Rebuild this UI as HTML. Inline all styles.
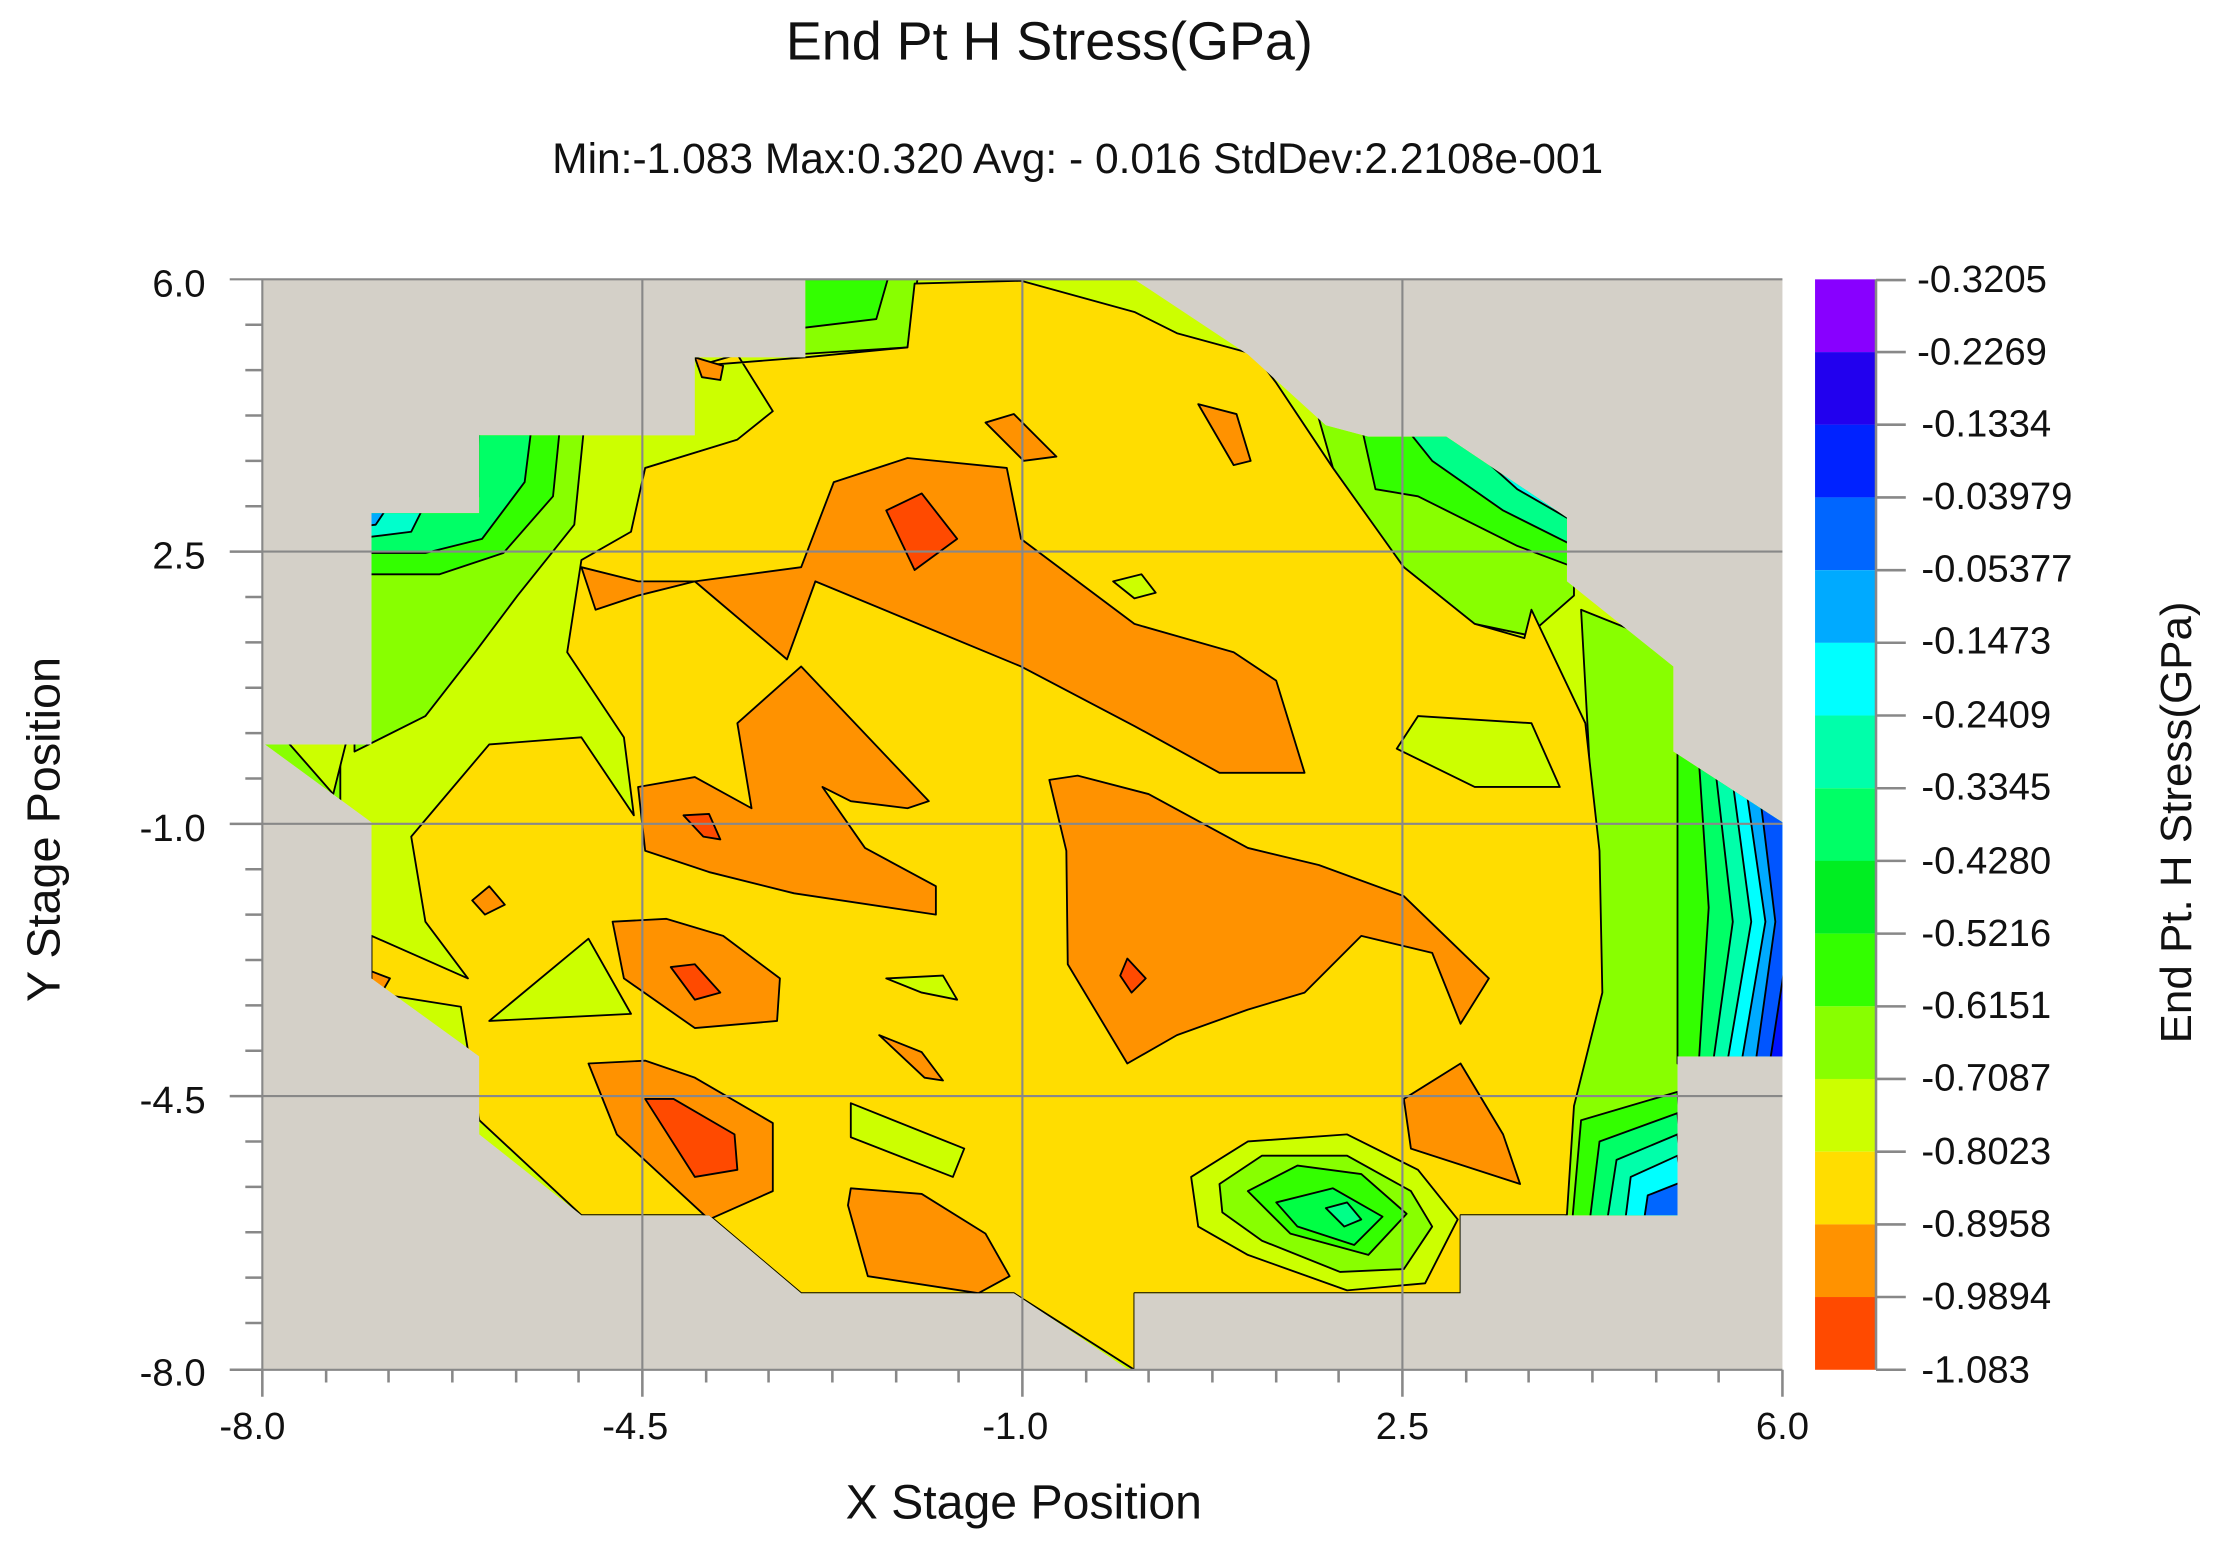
<!DOCTYPE html>
<html><head><meta charset="utf-8"><style>
html,body{margin:0;padding:0;background:#fff;}
svg{display:block;}
text{font-family:"Liberation Sans","DejaVu Sans",sans-serif;fill:#111;}
</style></head><body>
<svg width="2224" height="1550" viewBox="0 0 1568.4 1093.1" preserveAspectRatio="none" xmlns="http://www.w3.org/2000/svg">
<defs>
<clipPath id="w"><polygon points="568,197 800,197 880,250 935,300 965,308 1020,308 1105,365 1105,410 1180,470 1180,530 1257,580 1257,745 1183,745 1183,857 1030,857 1030,912 800,912 800,966 796,966 715,912 565,912 500,857 410,857 338,800 338,745 262,690 262,580 187,525 262,525 262,362 338,362 338,307 490,307 490,252 568,252"/></clipPath>
</defs>
<text x="740" y="42" font-size="38" text-anchor="middle">End Pt H Stress(GPa)</text>
<text x="760" y="122" font-size="30" text-anchor="middle">Min:-1.083  Max:0.320  Avg: - 0.016  StdDev:2.2108e-001</text>
<rect x="185" y="197" width="1072" height="769" fill="#d4d0c8"/>
<g clip-path="url(#w)" stroke="#000" stroke-width="1.3" stroke-linejoin="round">
<rect x="180" y="190" width="1090" height="790" fill="#ccff00" stroke="none"/>
<polygon fill="#88ff00" points="250,350 338,350 338,300 412,300 405,370 365,420 335,460 300,505 250,530"/>
<polygon fill="#33ff00" points="250,350 335,350 338,300 395,300 390,350 355,390 310,405 250,405"/>
<polygon fill="#00ff66" points="250,350 330,350 338,300 375,300 370,340 340,380 300,390 250,390"/>
<polygon fill="#00ffcc" points="250,355 300,355 290,375 250,380"/>
<polygon fill="#00aaff" points="250,355 275,355 265,370 250,372"/>
<polygon fill="#88ff00" points="560,190 648,190 640,245 560,250"/>
<polygon fill="#33ff00" points="560,190 628,190 618,225 560,232"/>
<polygon fill="#88ff00" points="930,295 1030,300 1110,360 1110,420 1078,448 1040,440 990,400 960,365 940,330"/>
<polygon fill="#33ff00" points="960,300 1030,300 1110,360 1110,400 1070,385 1000,350 970,345"/>
<polygon fill="#00ff88" points="990,300 1030,300 1110,355 1110,385 1060,360 1010,325"/>
<polygon fill="#00ffee" points="1020,300 1040,300 1110,350 1110,368 1070,345"/>
<polygon fill="#88ff00" points="1115,430 1190,460 1190,530 1265,580 1265,750 1190,750 1190,870 1105,870 1100,790 1118,720 1125,620 1120,520"/>
<polygon fill="#33ff00" points="1183,525 1265,580 1265,750 1183,750"/>
<polygon fill="#00ff66" points="1198,535 1265,578 1265,750 1198,750 1205,640"/>
<polygon fill="#00ffaa" points="1210,545 1265,578 1265,750 1208,750 1222,650"/>
<polygon fill="#00ffff" points="1222,552 1265,578 1265,750 1218,750 1235,650"/>
<polygon fill="#00aaff" points="1232,560 1265,578 1265,750 1228,750 1245,650"/>
<polygon fill="#0055ff" points="1242,568 1265,578 1265,750 1238,750 1252,650"/>
<polygon fill="#0011ff" points="1265,640 1265,750 1248,750"/>
<polygon fill="#33ff00" points="1115,790 1183,770 1190,870 1108,870"/>
<polygon fill="#00ff66" points="1128,805 1183,785 1190,870 1120,870"/>
<polygon fill="#00ffaa" points="1140,818 1183,800 1190,870 1132,870"/>
<polygon fill="#00ffff" points="1150,830 1183,815 1190,870 1145,870"/>
<polygon fill="#0066ff" points="1162,843 1190,832 1190,870 1158,870"/>
<polygon fill="#88ff00" points="180,520 240,520 240,570 180,570"/>
<polygon fill="#ffdd00" points="492,258 520,250 545,290 520,310 455,330 445,375 410,395 400,460 440,520 447,575 410,520 345,525 290,590 300,650 330,690 262,660 262,700 325,710 338,790 410,857 500,857 565,912 715,912 800,966 800,912 1030,912 1030,857 1105,857 1110,780 1130,700 1128,600 1118,510 1080,430 1075,450 1040,440 990,400 940,330 900,270 885,250 830,235 800,220 720,198 645,200 640,245 568,252"/>
<polygon fill="#ccff00" points="985,528 1000,505 1080,510 1100,555 1040,555"/>
<polygon fill="#ccff00" points="345,720 415,662 445,715"/>
<polygon fill="#ccff00" points="785,410 805,405 815,418 800,422"/>
<polygon fill="#ccff00" points="625,690 665,688 675,705 650,700"/>
<polygon fill="#ccff00" points="600,778 680,810 672,830 600,802"/>
<polygon fill="#ccff00" points="200,520 245,520 235,560"/>
<polygon fill="#ccff00" points="840,830 880,805 950,800 1000,825 1028,860 1005,905 950,910 880,885 845,865"/>
<polygon fill="#88ff00" points="860,835 890,815 950,815 995,840 1010,865 990,895 945,897 890,875 862,855"/>
<polygon fill="#33ff00" points="880,840 915,822 960,828 992,856 965,885 910,870"/>
<polygon fill="#00ff44" points="900,848 940,838 975,858 955,878 915,865"/>
<polygon fill="#00ff88" points="935,852 950,848 960,860 948,865"/>
<polygon fill="#ff9200" points="410,400 420,430 450,420 490,410 555,465 575,410 720,470 800,512 860,545 920,545 900,480 870,460 800,440 720,380 710,330 640,323 588,340 565,400 490,410 450,410"/>
<polygon fill="#ff9200" points="520,510 565,470 655,565 640,570 600,565 580,555 610,598 660,625 660,645 560,630 500,615 455,600 450,555 490,548 530,570"/>
<polygon fill="#ff9200" points="740,550 752,600 753,680 795,750 830,730 880,712 920,700 960,660 1010,672 1030,722 1050,690 990,632 930,610 880,598 810,560 760,547"/>
<polygon fill="#ff9200" points="432,650 440,690 490,725 548,720 550,690 510,660 470,648"/>
<polygon fill="#ff9200" points="415,750 435,800 500,860 545,840 545,792 490,760 455,748"/>
<polygon fill="#ff9200" points="598,850 612,900 690,912 712,900 695,870 650,842 600,838"/>
<polygon fill="#ff9200" points="990,775 995,810 1072,835 1060,800 1030,750"/>
<polygon fill="#ff9200" points="695,298 715,292 745,322 722,325"/>
<polygon fill="#ff9200" points="845,285 872,292 882,325 870,328"/>
<polygon fill="#ff9200" points="333,635 345,625 356,638 342,645"/>
<polygon fill="#ff9200" points="262,685 275,690 268,702 262,700"/>
<polygon fill="#ff9200" points="620,730 650,742 665,762 652,760"/>
<polygon fill="#ff9200" points="490,252 510,258 508,268 495,266"/>
<polygon fill="#ff4a00" points="625,360 650,348 675,380 645,402"/>
<polygon fill="#ff4a00" points="473,682 490,680 508,700 490,705"/>
<polygon fill="#ff4a00" points="455,775 475,775 518,800 520,825 490,830"/>
<polygon fill="#ff4a00" points="482,575 500,574 508,592 496,590"/>
<polygon fill="#ff4a00" points="795,676 808,690 798,700 790,688"/>
</g>
<g stroke="#888" stroke-width="1.5">
<line x1="453" y1="197" x2="453" y2="966"/><line x1="721" y1="197" x2="721" y2="966"/><line x1="989" y1="197" x2="989" y2="966"/>
<line x1="185" y1="389" x2="1257" y2="389"/><line x1="185" y1="581" x2="1257" y2="581"/><line x1="185" y1="773" x2="1257" y2="773"/>
<line x1="162" y1="197" x2="1257" y2="197"/>
<line x1="185" y1="197" x2="185" y2="966"/><line x1="185" y1="966" x2="1257" y2="966"/>
</g>
<g stroke="#888" stroke-width="1.8">
<path d="M173 229H185M173 261H185M173 293H185M173 325H185M173 357H185M162 389H185M173 421H185M173 453H185M173 485H185M173 517H185M173 549H185M162 581H185M173 613H185M173 645H185M173 677H185M173 709H185M173 741H185M162 773H185M173 805H185M173 837H185M173 869H185M173 901H185M173 933H185M162 966H185"/>
<path d="M185 966V985M230 966V975M274 966V975M319 966V975M364 966V975M408 966V975M453 966V985M498 966V975M542 966V975M587 966V975M632 966V975M676 966V975M721 966V985M766 966V975M810 966V975M855 966V975M900 966V975M944 966V975M989 966V985M1034 966V975M1078 966V975M1123 966V975M1168 966V975M1212 966V975M1257 966V985"/>
</g>
<g font-size="27" text-anchor="end">
<text x="145" y="209">6.0</text><text x="145" y="401">2.5</text><text x="145" y="593">-1.0</text><text x="145" y="785">-4.5</text><text x="145" y="977">-8.0</text>
</g>
<g font-size="27" text-anchor="middle">
<text x="178" y="1015">-8.0</text><text x="448" y="1015">-4.5</text><text x="716" y="1015">-1.0</text><text x="989" y="1015">2.5</text><text x="1257" y="1015">6.0</text>
</g>
<text x="722" y="1071" font-size="34" text-anchor="middle">X Stage Position</text>
<text transform="translate(42,585) rotate(-90)" font-size="33" text-anchor="middle">Y Stage Position</text>
<g>
<rect x="1280" y="197.0" width="43" height="51.3" fill="#8800ff"/>
<rect x="1280" y="248.3" width="43" height="51.3" fill="#2200ee"/>
<rect x="1280" y="299.5" width="43" height="51.3" fill="#0022ff"/>
<rect x="1280" y="350.8" width="43" height="51.3" fill="#0066ff"/>
<rect x="1280" y="402.1" width="43" height="51.3" fill="#00aaff"/>
<rect x="1280" y="453.3" width="43" height="51.3" fill="#00ffff"/>
<rect x="1280" y="504.6" width="43" height="51.3" fill="#00ffaa"/>
<rect x="1280" y="555.9" width="43" height="51.3" fill="#00ff66"/>
<rect x="1280" y="607.1" width="43" height="51.3" fill="#00ee22"/>
<rect x="1280" y="658.4" width="43" height="51.3" fill="#33ff00"/>
<rect x="1280" y="709.7" width="43" height="51.3" fill="#88ff00"/>
<rect x="1280" y="760.9" width="43" height="51.3" fill="#ccff00"/>
<rect x="1280" y="812.2" width="43" height="51.3" fill="#ffdd00"/>
<rect x="1280" y="863.5" width="43" height="51.3" fill="#ff9200"/>
<rect x="1280" y="914.7" width="43" height="51.3" fill="#ff4a00"/>
</g>
<g stroke="#888" stroke-width="1.8">
<line x1="1323" y1="197" x2="1323" y2="966"/>
<path d="M1323 197.5H1344M1323 248.3H1344M1323 299.5H1344M1323 350.8H1344M1323 402.1H1344M1323 453.3H1344M1323 504.6H1344M1323 555.9H1344M1323 607.1H1344M1323 658.4H1344M1323 709.7H1344M1323 760.9H1344M1323 812.2H1344M1323 863.5H1344M1323 914.7H1344M1323 966H1344"/>
</g>
<g font-size="27">
<text x="1352" y="206">-0.3205</text><text x="1352" y="257">-0.2269</text><text x="1355" y="308">-0.1334</text><text x="1355" y="359">-0.03979</text><text x="1355" y="410">-0.05377</text><text x="1355" y="461">-0.1473</text><text x="1355" y="513">-0.2409</text><text x="1355" y="564">-0.3345</text><text x="1355" y="616">-0.4280</text><text x="1355" y="667">-0.5216</text><text x="1355" y="718">-0.6151</text><text x="1355" y="769">-0.7087</text><text x="1355" y="821">-0.8023</text><text x="1355" y="872">-0.8958</text><text x="1355" y="923">-0.9894</text><text x="1355" y="975">-1.083</text>
</g>
<text transform="translate(1545,580) rotate(-90)" font-size="31" text-anchor="middle">End Pt. H Stress(GPa)</text>
</svg>
</body></html>
